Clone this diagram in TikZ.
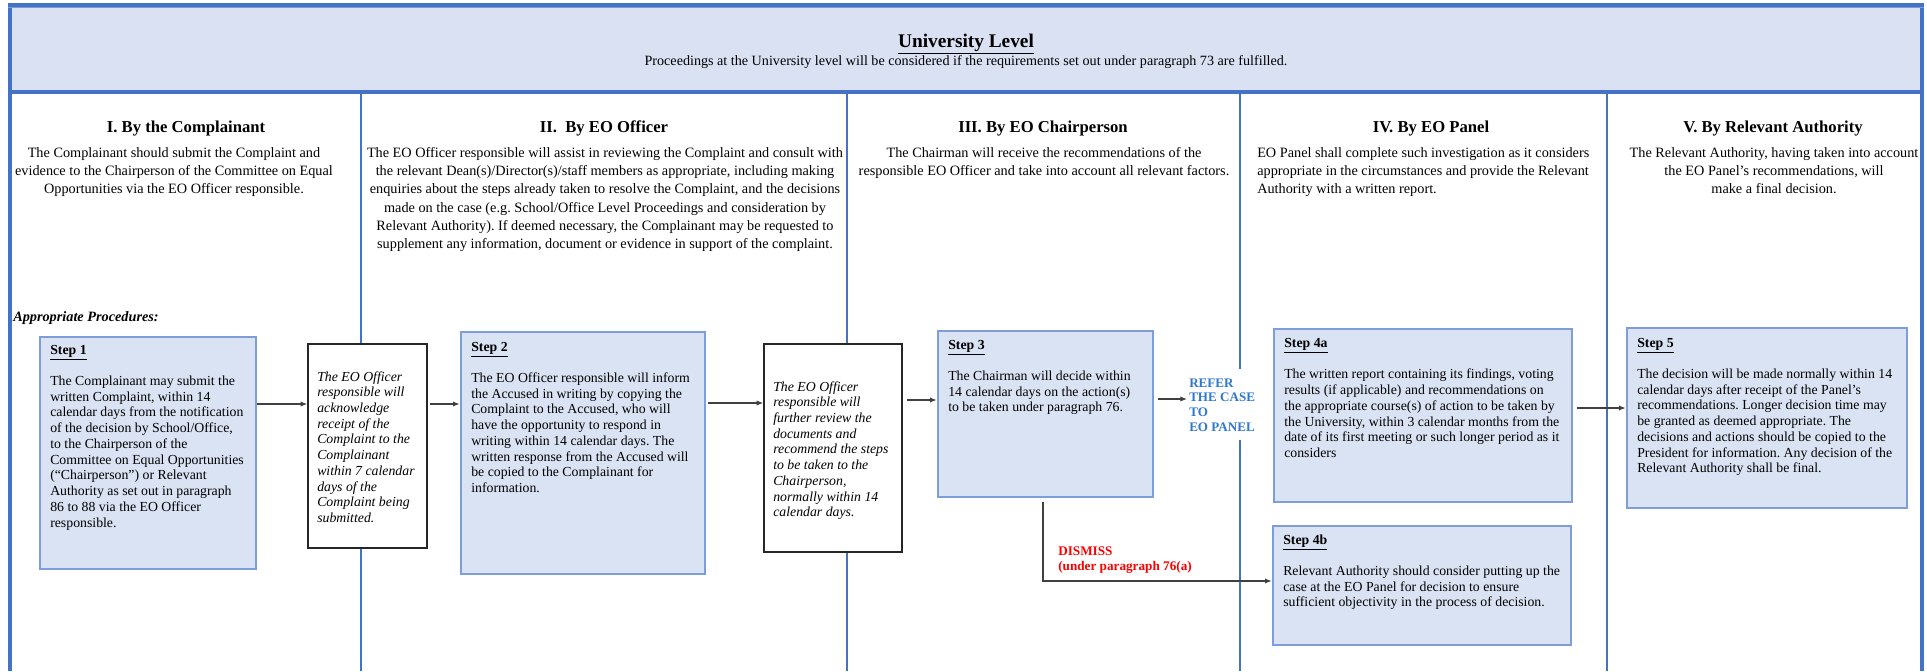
\documentclass[tikz,border=0pt]{standalone}
\usepackage{fontspec}
\setmainfont{Liberation Serif}
\usetikzlibrary{arrows.meta,fit}
\definecolor{hdrfill}{HTML}{DAE1F3}
\definecolor{stepfill}{HTML}{DAE3F3}
\definecolor{stepline}{HTML}{7F9ED9}
\definecolor{divblue}{HTML}{4472C4}
\definecolor{referblue}{HTML}{2F78CF}
\definecolor{dismissred}{HTML}{FF0000}
\definecolor{arrowgray}{HTML}{404040}
\newcommand{\hbody}{\fontsize{10.7}{13.75}\selectfont}
\newcommand{\sbody}{\fontsize{10.35}{11.8}\selectfont}
\newcommand{\chead}{\fontsize{12.5}{15}\selectfont\bfseries}
\tikzset{
  stepbox/.style={draw=stepline, line width=2pt, fill=stepfill, inner sep=0pt},
  notebox/.style={draw=black!85, line width=1.1pt, fill=white, inner sep=0pt},
  divider/.style={draw=divblue, line width=1.5pt},
  border/.style={draw=divblue, line width=3pt},
  arr/.style={draw=arrowgray, line width=0.9pt, -{Latex[length=5pt,width=4pt]}},
  txt/.style={inner sep=0pt, anchor=base west},
  ctxt/.style={inner sep=0pt, anchor=base},
}
\begin{document}
\frenchspacing
\begin{tikzpicture}[x=0.75pt,y=-0.75pt]
\useasboundingbox (0,0) rectangle (1927,671);

% header band
\node[fit={(10,5) (1922,92)}, inner sep=0pt, draw=divblue, line width=3pt, fill=hdrfill] (hdr) {};
\draw[draw=divblue!70, line width=0.8pt] (hdr.north west) ++(0,4.5) coordinate (hl) -- (hl -| hdr.north east);
\node[ctxt] (title) at (966,47) {\fontsize{14.5}{17}\selectfont\bfseries\underline{University Level}};
\node[ctxt] (sub) at (966,65) {\fontsize{10.6}{12}\selectfont Proceedings at the University level will be considered if the requirements set out under paragraph 73 are fulfilled.};

% outer borders and column dividers
\draw[border] (10,92) -- (10,671);
\draw[border] (1922,92) -- (1922,671);
\draw[divider] (361,92) -- (361,671);
\draw[divider] (847,92) -- (847,671);
\draw[divider] (1240,92) -- (1240,671);
\draw[divider] (1607,92) -- (1607,671);

% column headings
\node[ctxt] (h1) at (186,132) {\chead I. By the Complainant};
\node[ctxt] (h2) at (604,132) {\chead II.\ \ By EO Officer};
\node[ctxt] (h3) at (1043,132) {\chead III. By EO Chairperson};
\node[ctxt] (h4) at (1431,132) {\chead IV. By EO Panel};
\node[ctxt] (h5) at (1773,132) {\chead V. By Relevant Authority};

% column descriptions
\node[ctxt] (d1) at (174,157) {\parbox[t]{340pt}{\centering\hbody The Complainant should submit the Complaint and\\ evidence to the Chairperson of the Committee on Equal\\ Opportunities via the EO Officer responsible.}};
\node[ctxt] (d2) at (605,157) {\parbox[t]{420pt}{\centering\hbody The EO Officer responsible will assist in reviewing the Complaint and consult with\\ the relevant Dean(s)/Director(s)/staff members as appropriate, including making\\ enquiries about the steps already taken to resolve the Complaint, and the decisions\\ made on the case (e.g. School/Office Level Proceedings and consideration by\\ Relevant Authority). If deemed necessary, the Complainant may be requested to\\ supplement any information, document or evidence in support of the complaint.}};
\node[ctxt] (d3) at (1044,157) {\parbox[t]{340pt}{\centering\hbody The Chairman will receive the recommendations of the\\ responsible EO Officer and take into account all relevant factors.}};
\node[txt] (d4) at (1257,157) {\parbox[t]{300pt}{\raggedright\hbody EO Panel shall complete such investigation as it considers\\ appropriate in the circumstances and provide the Relevant\\ Authority with a written report.}};
\node[ctxt] (d5) at (1774,157) {\parbox[t]{300pt}{\centering\hbody The Relevant Authority, having taken into account\\ the EO Panel’s recommendations, will\\ make a final decision.}};

\node[txt] (ap) at (13,321) {\fontsize{10.7}{13}\selectfont\bfseries\itshape Appropriate Procedures:};

% boxes
\node[stepbox, fit={(40,337) (256,569)}] (s1) {};
\node[notebox, fit={(308,344) (427,548)}] (ack) {};
\node[stepbox, fit={(461,332) (705,574)}] (s2) {};
\node[notebox, fit={(764,344) (902,552)}] (rev) {};
\node[stepbox, fit={(938,331) (1153,497)}] (s3) {};
\node[stepbox, fit={(1274,329) (1572,502)}] (s4a) {};
\node[stepbox, fit={(1273,526) (1571,645)}] (s4b) {};
\node[stepbox, fit={(1627,328) (1907,508)}] (s5) {};

% box texts
\node[txt] (t1) at (50,354) {\parbox[t]{250pt}{\raggedright\sbody\underline{\textbf{Step 1}}\\[\baselineskip]
The Complainant may submit the\\ written Complaint, within 14\\ calendar days from the notification\\ of the decision by School/Office,\\ to the Chairperson of the\\ Committee on Equal Opportunities\\ (“Chairperson”) or Relevant\\ Authority as set out in paragraph\\ 86 to 88 via the EO Officer\\ responsible.}};
\node[txt] (tack) at (317,381) {\parbox[t]{150pt}{\raggedright\sbody\itshape The EO Officer\\ responsible will\\ acknowledge\\ receipt of the\\ Complaint to the\\ Complainant\\ within 7 calendar\\ days of the\\ Complaint being\\ submitted.}};
\node[txt] (t2) at (471,351) {\parbox[t]{250pt}{\raggedright\sbody\underline{\textbf{Step 2}}\\[\baselineskip]
The EO Officer responsible will inform\\ the Accused in writing by copying the\\ Complaint to the Accused, who will\\ have the opportunity to respond in\\ writing within 14 calendar days. The\\ written response from the Accused will\\ be copied to the Complainant for\\ information.}};
\node[txt] (trev) at (773,391) {\parbox[t]{150pt}{\raggedright\sbody\itshape The EO Officer\\ responsible will\\ further review the\\ documents and\\ recommend the steps\\ to be taken to the\\ Chairperson,\\ normally within 14\\ calendar days.}};
\node[txt] (t3) at (948,349) {\parbox[t]{250pt}{\raggedright\sbody\underline{\textbf{Step 3}}\\[\baselineskip]
The Chairman will decide within\\ 14 calendar days on the action(s)\\ to be taken under paragraph 76.}};
\node[txt] (t4a) at (1284,347.5) {\parbox[t]{300pt}{\raggedright\sbody\underline{\textbf{Step 4a}}\\[\baselineskip]
The written report containing its findings, voting\\ results (if applicable) and recommendations on\\ the appropriate course(s) of action to be taken by\\ the University, within 3 calendar months from the\\ date of its first meeting or such longer period as it\\ considers}};
\node[txt] (t4b) at (1283,544) {\parbox[t]{300pt}{\raggedright\sbody\underline{\textbf{Step 4b}}\\[\baselineskip]
Relevant Authority should consider putting up the\\ case at the EO Panel for decision to ensure\\ sufficient objectivity in the process of decision.}};
\node[txt] (t5) at (1637,347) {\parbox[t]{300pt}{\raggedright\sbody\underline{\textbf{Step 5}}\\[\baselineskip]
The decision will be made normally within 14\\ calendar days after receipt of the Panel’s\\ recommendations. Longer decision time may\\ be granted as deemed appropriate. The\\ decisions and actions should be copied to the\\ President for information. Any decision of the\\ Relevant Authority shall be final.}};

% decision labels
\node[txt, fill=white, text=referblue, inner xsep=1.5pt, inner ysep=7pt] (refer) at (1187,387) {\parbox[t]{60pt}{\raggedright\fontsize{9.8}{11}\selectfont\bfseries REFER\\ THE CASE\\ TO\\ EO PANEL}};
\node[txt, text=dismissred] (dis) at (1058,555) {\parbox[t]{150pt}{\raggedright\fontsize{9.9}{11.5}\selectfont\bfseries DISMISS\\ (under paragraph 76(a)}};

% connectors
\draw[arr] (s1.east |- 0,404) -- (ack.west |- 0,404);
\draw[arr, shorten <=1.5pt] (ack.east |- 0,404) -- (s2.west |- 0,404);
\draw[arr, shorten <=1.5pt] (s2.east |- 0,403) -- (rev.west |- 0,403);
\draw[arr, shorten <=3.5pt] (rev.east |- 0,400) -- (s3.west |- 0,400);
\draw[arr, shorten <=3pt] (s3.east |- 0,399) -- (refer.west |- 0,399);
\draw[arr, shorten <=3pt] (s4a.east |- 0,408) -- (s5.west |- 0,408);
\coordinate (dturn) at (1043,581);
\draw[arr, shorten <=3pt] (s3.south -| dturn) -- (dturn) -- (s4b.west |- dturn);
\end{tikzpicture}
\end{document}
